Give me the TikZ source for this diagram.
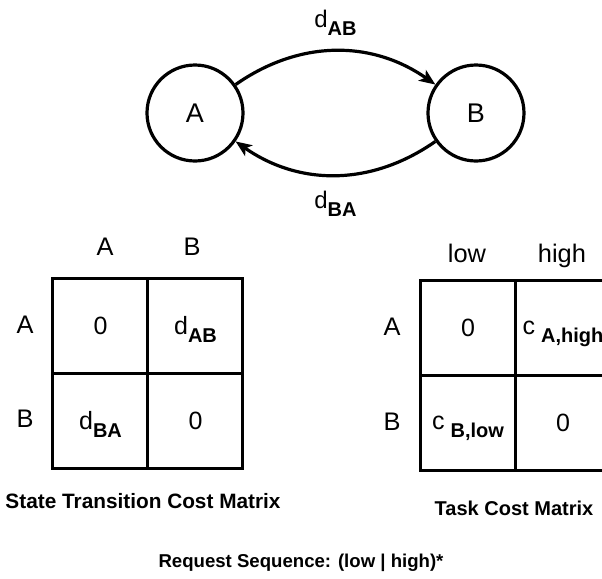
\documentclass[tikz,border=0pt]{standalone}
\usepackage{fontspec}
\setmainfont{Liberation Sans}
\usepackage{tikz}
\usetikzlibrary{arrows.meta,automata,positioning}

\newcommand{\cost}[3][0pt]{#2\hspace{#1}\raisebox{-4pt}[0pt][0pt]{\fontsize{10}{12}\selectfont\bfseries #3}}

\begin{document}
\begin{tikzpicture}[x=0.5pt,y=-0.5pt,-,>={Stealth[length=8pt,width=6.5pt,inset=2pt]},
                    auto,line width=1.6pt,node distance=140.5pt]
  \tikzstyle{every state}=[draw=black,fill=none,text=black,minimum size=48pt,
                           inner sep=0pt,font=\fontsize{13.5}{16}\selectfont]
  \tikzstyle{cell}=[draw=black,rectangle,minimum size=47.5pt,inner sep=0pt,
                    outer sep=0pt,line width=1.5pt,font=\fontsize{12.5}{15}\selectfont]
  \tikzstyle{head}=[inner sep=0pt,anchor=base,font=\fontsize{12.7}{15}\selectfont]
  \tikzstyle{label}=[font=\fontsize{12}{14}\selectfont]
  \tikzstyle{caption}=[inner sep=0pt,anchor=base,font=\fontsize{10.4}{12}\selectfont\bfseries]

  \useasboundingbox (0,0) rectangle (602,579);
  \clip (0,0) rectangle (602,579);

  % states
  \node[state] (A) at (195,113) {A};
  \node[state] (B)              [right of=A] {B};

  \path[->] (A) edge [bend left=35] node[label,inner sep=11pt] {\cost{d}{AB}} (B)
            (B) edge [bend left=35] node[label,inner sep=7.5pt] {\cost{d}{BA}} (A);

  % state transition cost matrix
  \node[cell] (sAA) at (100.5,326)      {0};
  \node[cell] (sAB) [right=0pt of sAA] {\cost{d}{AB}};
  \node[cell] (sBA) [below=0pt of sAA] {\cost{d}{BA}};
  \node[cell] (sBB) [right=0pt of sBA] {0};

  \node[head] (sColA) at (105,255) {A};
  \node[head] (sColB) at (192,255) {B};
  \node[head] (sRowA) at (25,333)  {A};
  \node[head] (sRowB) at (25,427)  {B};
  \node[caption] (sCap) at (143,508) {State Transition Cost Matrix};

  % task cost matrix
  \node[cell] (tAlow)  at (468,327.5)     {0};
  \node[cell] (tAhigh) [right=0pt of tAlow] {\cost[3pt]{c}{A,high}};
  \node[cell] (tBlow)  [below=0pt of tAlow] {\cost[3pt]{c}{B,low}};
  \node[cell] (tBhigh) [right=0pt of tBlow] {0};

  \node[head] (tColLow)  at (467,262) {low};
  \node[head] (tColHigh) at (562,262) {high};
  \node[head] (tRowA)    at (392,335) {A};
  \node[head] (tRowB)    at (392,430) {B};
  \node[caption,font=\fontsize{10}{12}\selectfont\bfseries] (tCap) at (514,515) {Task Cost Matrix};

  \node[caption,font=\fontsize{9.3}{11}\selectfont\bfseries] (req) at (301,567)
    {Request Sequence: (low | high)*};
\end{tikzpicture}
\end{document}
